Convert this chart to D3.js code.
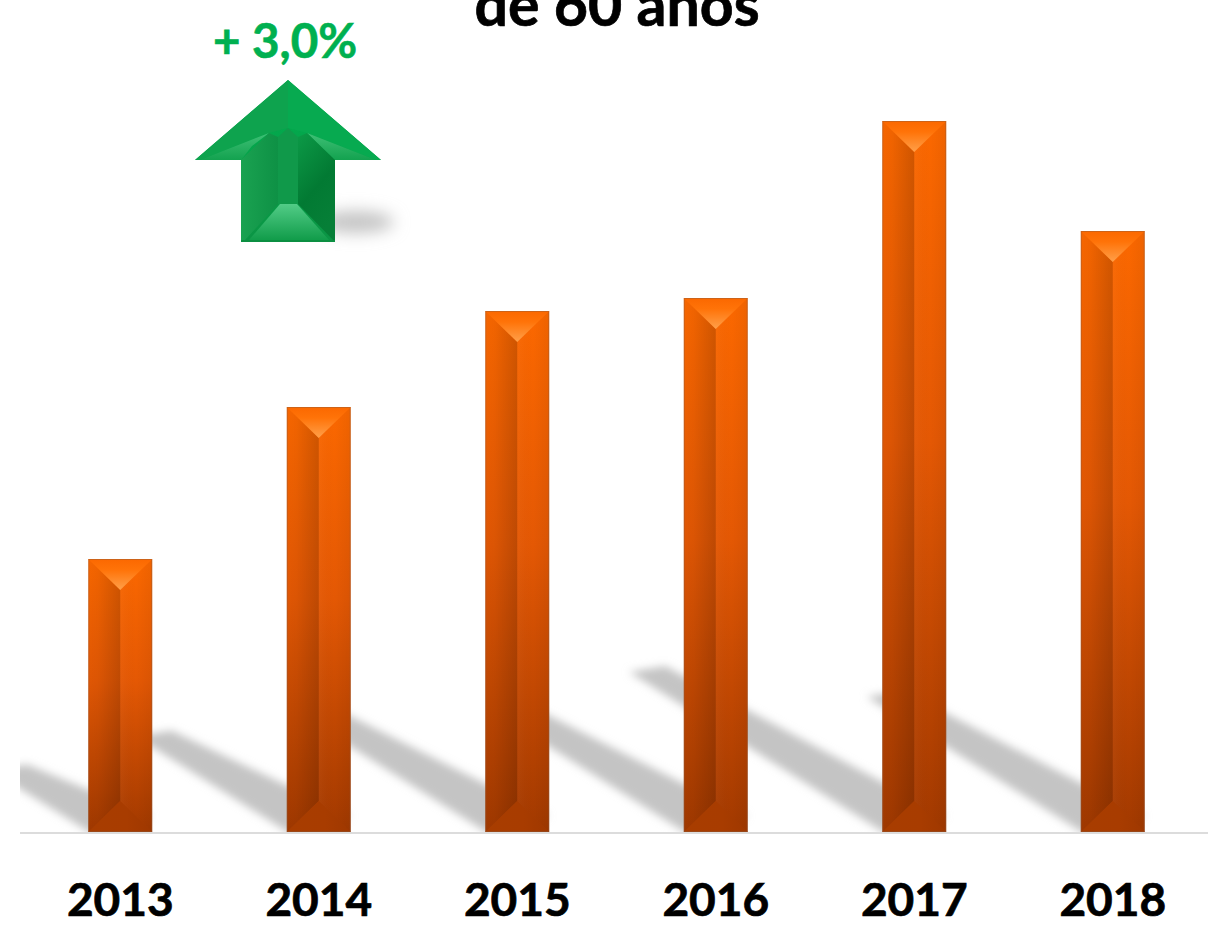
<!DOCTYPE html>
<html>
<head>
<meta charset="utf-8">
<script src="https://cdn.jsdelivr.net/npm/d3@7"></script>
<style>
  html, body { margin: 0; padding: 0; background: #fff; overflow: hidden; }
  text { font-family: Lato, "Open Sans", sans-serif; font-weight: 700; }
</style>
</head>
<body>
<div id="chart"></div>
<script>
// values (no value axis in the original, so units are relative)
var years = ["2013", "2014", "2015", "2016", "2017", "2018"];
var values = [273, 425, 521, 534, 711, 601];
var titleLine = "de 60 anos";
var growthLabel = "+ 3,0%";

var width = 1208, height = 926;
var baseline = 832;

var svg = d3.select("#chart").append("svg")
    .attr("width", width)
    .attr("height", height);

var x = d3.scaleBand()
    .domain(years)
    .range([21, 1212])
    .paddingInner(0.678)
    .paddingOuter(0.339);

var y = d3.scaleLinear()
    .domain([0, 800])
    .range([baseline, 32]);

var defs = svg.append("defs");

function gradient(id, x2, y2, stops) {
  var g = defs.append("linearGradient").attr("id", id)
      .attr("x1", 0).attr("y1", 0).attr("x2", x2).attr("y2", y2);
  stops.forEach(function (s) {
    g.append("stop").attr("offset", s[0]).attr("stop-color", s[1])
        .attr("stop-opacity", s[2] === undefined ? 1 : s[2]);
  });
}

gradient("barBody", 0, 1, [[0, "#fb6800"], [0.45, "#e45804"], [1, "#a23900"]]);
gradient("barRight", 1, 0, [[0, "#fff", 0.03], [0.5, "#000", 0], [1, "#000", 0.05]]);
gradient("barLeft", 1, 0, [[0, "#000", 0.02], [0.3, "#000", 0.04], [1, "#000", 0.17]]);
gradient("barTop", 0, 1, [[0, "#fb6800"], [0.35, "#ff7308"], [1, "#ffa04a"]]);
gradient("barBottom", 1, 0, [[0, "#a83d00"], [0.6, "#a83c00"], [1, "#9f3800"]]);
gradient("arrowBody", 0, 1, [[0, "#00b050"], [1, "#0b9444"]]);
gradient("arrowShaftL", 1, 0, [[0, "#1aa251"], [1, "#0e9145"]]);
gradient("arrowShaftR", 0.4, 1, [[0, "#0c9a47"], [0.6, "#027a33"], [1, "#067f37"]]);
gradient("arrowWing", 0, 1, [[0, "#3fc076"], [1, "#13a24f"]]);
gradient("arrowFoot", 0, 1, [[0, "#52cc87"], [1, "#119c4a"]]);

defs.append("filter").attr("id", "blurShadow")
    .attr("x", "-20%").attr("y", "-20%").attr("width", "140%").attr("height", "140%")
  .append("feGaussianBlur").attr("stdDeviation", 4.5);
defs.append("filter").attr("id", "blurArrow")
    .attr("x", "-50%").attr("y", "-100%").attr("width", "200%").attr("height", "300%")
  .append("feGaussianBlur").attr("stdDeviation", 8);

defs.append("clipPath").attr("id", "plotClip")
  .append("rect").attr("x", 20).attr("y", 0).attr("width", width - 20).attr("height", baseline);

// long slanted shadows go first, every bar is drawn over them
svg.append("g")
    .attr("clip-path", "url(#plotClip)")
  .selectAll("polygon")
  .data(values)
  .enter().append("polygon")
    .attr("fill", "#c4c4c4")
    .attr("filter", "url(#blurShadow)")
    .attr("points", function (d, i) {
      var x0 = x(years[i]), w = x.bandwidth(), h = baseline - y(d);
      var tx = x0 - 0.356 * h, ty = baseline - 0.225 * h;
      return [[x0 + 4, baseline + 2], [x0 + w, baseline - 16], [tx + 36, ty - 6], [tx, ty]].join(" ");
    });

var bars = svg.selectAll(".bar")
    .data(values)
  .enter().append("g")
    .attr("class", "bar");

var bevel = 31;

function barShape(fn) {
  return function (d, i) {
    var l = x(years[i]), w = x.bandwidth(), t = y(d);
    return fn(l, l + w / 2, l + w, t, baseline).join(" ");
  };
}

bars.append("rect")
    .attr("x", function (d, i) { return x(years[i]); })
    .attr("y", function (d) { return y(d); })
    .attr("width", x.bandwidth())
    .attr("height", function (d) { return baseline - y(d); })
    .attr("fill", "url(#barBody)");

// right side, faint sheen
bars.append("polygon")
    .attr("fill", "url(#barRight)")
    .attr("points", barShape(function (l, m, r, t, b) {
      return [[m, t + bevel], [r, t], [r, b], [m, b - bevel]];
    }));

// left side is the shaded facet
bars.append("polygon")
    .attr("fill", "url(#barLeft)")
    .attr("points", barShape(function (l, m, r, t, b) {
      return [[l, t], [m, t + bevel], [m, b - bevel], [l, b]];
    }));

bars.append("polygon")
    .attr("fill", "url(#barBottom)")
    .attr("points", barShape(function (l, m, r, t, b) {
      return [[l, b], [m, b - bevel], [r, b]];
    }));

bars.append("polygon")
    .attr("fill", "url(#barTop)")
    .attr("points", barShape(function (l, m, r, t, b) {
      return [[l, t], [r, t], [m, t + bevel]];
    }));

bars.append("rect")
    .attr("x", function (d, i) { return x(years[i]) + 0.5; })
    .attr("y", function (d) { return y(d) + 0.5; })
    .attr("width", x.bandwidth() - 1)
    .attr("height", function (d) { return baseline - y(d) - 1; })
    .attr("fill", "none")
    .attr("stroke", "#8a5a3c")
    .attr("stroke-opacity", 0.4);

// x axis
var xAxis = d3.axisBottom(x).tickSize(0).tickPadding(50);
var gx = svg.append("g")
    .attr("class", "x axis")
    .attr("transform", "translate(0," + (baseline + 1) + ")")
    .call(xAxis);
gx.select(".domain")
    .attr("stroke", "#dcdcdc")
    .attr("stroke-width", 2)
    .attr("d", "M20,0H1208");
gx.selectAll("text")
    .attr("fill", "#000")
    .attr("stroke", "#000")
    .attr("stroke-width", 0.7)
    .style("font-size", "46px");

// what is left of the title, cut by the top edge
svg.append("text")
    .attr("x", 617)
    .attr("y", 26)
    .attr("text-anchor", "middle")
    .attr("fill", "#000")
    .attr("stroke", "#000")
    .attr("stroke-width", 0.7)
    .style("font-size", "59px")
    .text(titleLine);

svg.append("text")
    .attr("x", 285)
    .attr("y", 58)
    .attr("text-anchor", "middle")
    .attr("fill", "#00b050")
    .attr("stroke", "#00b050")
    .attr("stroke-width", 0.6)
    .style("font-size", "47.5px")
    .text(growthLabel);

// growth arrow
var arrow = svg.append("g").attr("class", "arrow");

function facet(fill, pts) {
  arrow.append("polygon").attr("fill", fill).attr("points", pts.join(" "));
}

arrow.append("ellipse")
    .attr("cx", 356).attr("cy", 222).attr("rx", 38).attr("ry", 11)
    .attr("fill", "#c4c4c4")
    .attr("filter", "url(#blurArrow)");

facet("url(#arrowBody)", [[288, 80], [381, 160], [335, 160], [335, 242], [241, 242], [241, 160], [195, 160]]);
facet("#0ea34e", [[288, 80], [288, 128], [269, 133], [200, 160], [195, 160]]);
facet("#07aa50", [[288, 80], [381, 160], [376, 160], [307, 133], [288, 128]]);
facet("url(#arrowWing)", [[269, 133], [200, 160], [241, 160], [252, 146]]);
facet("url(#arrowWing)", [[307, 133], [376, 160], [335, 160], [320, 146]]);
facet("url(#arrowShaftL)", [[241, 160], [269, 133], [278, 137], [278, 204], [245, 240], [241, 242]]);
facet("url(#arrowShaftR)", [[298, 137], [307, 133], [335, 160], [335, 242], [298, 204]]);
facet("#10994a", [[278, 137], [288, 128], [298, 137], [298, 204], [278, 204]]);
facet("url(#arrowFoot)", [[280, 204], [297, 204], [329, 240], [249, 240]]);
facet("#0b8f41", [[241, 240], [335, 240], [335, 242], [241, 242]]);
</script>
</body>
</html>
